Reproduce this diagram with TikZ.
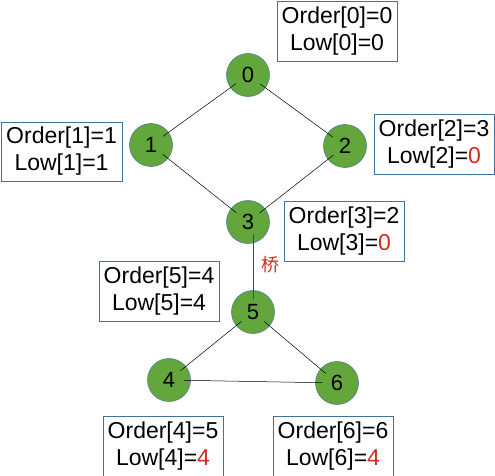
\documentclass[tikz,border=0pt]{standalone}
\usepackage{fontspec}
\setmainfont{Liberation Sans}
\newfontfamily\cjk{Noto Sans CJK SC}
\definecolor{nodegreen}{HTML}{62A63C}
\definecolor{nodeedge}{HTML}{4F7F95}
\definecolor{boxedge}{HTML}{41719C}
\definecolor{lowred}{HTML}{D42A20}
\begin{document}
\begin{tikzpicture}[x=1pt,y=-1pt,
  vert/.style={circle,fill=nodegreen,draw=nodeedge,line width=0.6pt,minimum size=43pt,inner sep=0pt,font=\fontsize{22}{22}\selectfont},
  infobox/.style={draw=boxedge,line width=0.9pt,fill=white,align=center,inner sep=0pt,font=\fontsize{23}{27}\selectfont},
  edge/.style={black,line width=0.5pt,shorten <=-7pt,shorten >=-7pt},
  bridge/.style={lowred!80!black,line width=0.7pt},
  rednum/.style={text=lowred}]
\useasboundingbox (0,0) rectangle (495,476);
\coordinate (p0) at (248,75);
\coordinate (p1) at (151,145);
\coordinate (p2) at (345,146);
\coordinate (p3) at (248,222);
\coordinate (p5) at (253,312);
\coordinate (p4) at (169,380);
\coordinate (p6) at (337,383);
\node[vert] (n0) at (p0) {0};
\node[vert] (n1) at (p1) {1};
\node[vert] (n2) at (p2) {2};
\node[vert] (n3) at (p3) {3};
\node[vert] (n5) at (p5) {5};
\node[vert] (n4) at (p4) {4};
\node[vert] (n6) at (p6) {6};
\draw[edge] (n0) -- (n1);
\draw[edge] (n0) -- (n2);
\draw[edge] (n1) -- (n3);
\draw[edge] (n2) -- (n3);
\draw[edge] (n5) -- (n4);
\draw[edge] (n5) -- (n6);
\draw[edge] (n4) -- (n6);
\coordinate (b3) at (253,234);
\coordinate (b5) at (253,299);
\draw[bridge] (b3) -- (b5);
\node[text=lowred,font=\cjk\fontsize{18}{18}\selectfont] (qiao) at (270,265) {桥};
\node[infobox,minimum width=120pt,minimum height=60pt] (o0) at (337,31) {Order[0]=0\\Low[0]=0};
\node[infobox,minimum width=121pt,minimum height=59pt] (o1) at (61.5,151.5) {Order[1]=1\\Low[1]=1};
\node[infobox,minimum width=120pt,minimum height=60pt] (o2) at (434,144) {Order[2]=3\\Low[2]=\textcolor{lowred}{0}};
\node[infobox,minimum width=120pt,minimum height=60pt] (o3) at (344,231) {Order[3]=2\\Low[3]=\textcolor{lowred}{0}};
\node[infobox,minimum width=120pt,minimum height=60pt] (o5) at (159,291) {Order[5]=4\\Low[5]=4};
\node[infobox,minimum width=120pt,minimum height=60pt] (o4) at (163,446) {Order[4]=5\\Low[4]=\textcolor{lowred}{4}};
\node[infobox,minimum width=120pt,minimum height=60pt] (o6) at (333,446) {Order[6]=6\\Low[6]=\textcolor{lowred}{4}};
\end{tikzpicture}
\end{document}
